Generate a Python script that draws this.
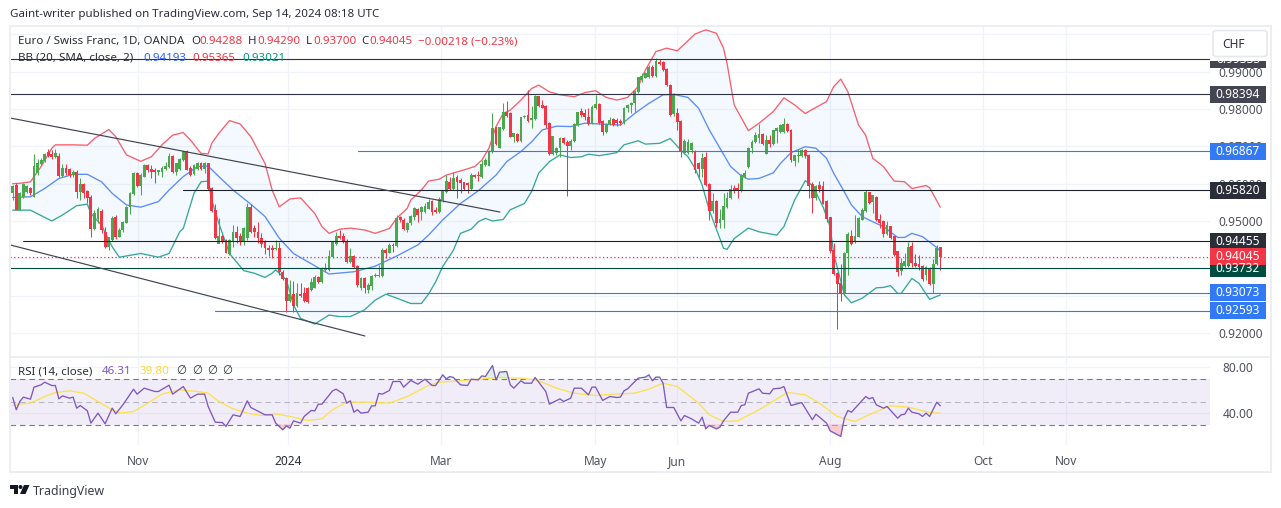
import matplotlib
matplotlib.use("Agg")
import numpy as np, pandas as pd, seaborn as sns
import matplotlib.pyplot as plt
from matplotlib.patches import Rectangle, Polygon, Circle, FancyBboxPatch
from matplotlib.transforms import IdentityTransform

W, H = 1281, 508
# ---------- candles, prices in 1e-4 CHF ----------
opens = [9576,9596,9531,9565,9579,9587,9565,9628,9654,9662,
 9683,9679,9672,9674,9620,9641,9638,9623,9632,9579,
 9598,9579,9563,9480,9507,9527,9471,9431,9451,9510,
 9458,9476,9495,9537,9574,9629,9594,9619,9650,9638,
 9635,9632,9632,9639,9646,9674,9632,9641,9663,9686,
 9641,9626,9641,9654,9641,9654,9587,9529,9440,9458,
 9449,9412,9445,9471,9458,9445,9454,9538,9480,9471,
 9454,9442,9427,9427,9425,9427,9364,9346,9287,9304,
 9272,9303,9306,9319,9315,9322,9349,9337,9369,9369,
 9404,9440,9460,9460,9446,9391,9406,9380,9320,9346,
 9315,9326,9353,9353,9353,9422,9415,9436,9434,9509,
 9503,9476,9494,9512,9531,9525,9525,9534,9552,9529,
 9525,9556,9579,9605,9587,9617,9608,9603,9601,9585,
 9623,9623,9619,9650,9647,9686,9750,9697,9746,9791,
 9788,9726,9732,9715,9778,9784,9771,9773,9833,9811,
 9808,9762,9681,9683,9695,9721,9712,9701,9715,9757,
 9793,9788,9779,9762,9802,9813,9766,9739,9760,9772,
 9771,9768,9763,9802,9811,9818,9846,9878,9885,9887,
 9913,9888,9924,9924,9907,9864,9786,9788,9766,9683,
 9683,9690,9686,9654,9639,9670,9599,9528,9552,9495,
 9503,9538,9562,9587,9587,9581,9619,9646,9697,9712,
 9724,9732,9681,9717,9706,9741,9739,9739,9760,9744,
 9662,9675,9675,9690,9677,9599,9561,9595,9594,9552,
 9509,9422,9360,9333,9306,9415,9460,9447,9458,9504,
 9528,9576,9552,9565,9504,9500,9465,9485,9458,9418,
 9367,9380,9380,9433,9387,9385,9380,9355,9373,9333,9385,9429]
closes = [9592,9531,9574,9599,9592,9576,9646,9654,9663,9679,
 9674,9672,9681,9620,9641,9630,9623,9632,9579,9598,
 9576,9563,9480,9520,9531,9476,9431,9456,9507,9458,
 9476,9498,9538,9574,9628,9594,9623,9650,9637,9632,
 9631,9635,9641,9647,9674,9632,9654,9665,9686,9638,
 9623,9650,9654,9641,9656,9587,9528,9454,9460,9445,
 9415,9449,9471,9456,9445,9480,9538,9471,9471,9454,
 9440,9427,9424,9424,9428,9364,9346,9287,9304,9272,
 9306,9300,9287,9284,9337,9349,9337,9373,9373,9406,
 9442,9458,9456,9445,9391,9406,9378,9329,9346,9320,
 9328,9351,9355,9355,9422,9415,9436,9433,9507,9503,
 9480,9494,9513,9534,9516,9538,9540,9551,9525,9525,
 9559,9579,9607,9587,9614,9605,9603,9585,9598,9623,
 9619,9620,9653,9663,9687,9748,9708,9750,9791,9782,
 9726,9735,9715,9778,9782,9769,9775,9833,9808,9804,
 9757,9679,9726,9695,9721,9710,9702,9715,9760,9791,
 9784,9778,9760,9806,9813,9763,9739,9760,9771,9757,
 9762,9762,9802,9811,9815,9848,9885,9887,9896,9913,
 9888,9927,9922,9906,9864,9784,9838,9766,9686,9715,
 9712,9708,9637,9639,9668,9596,9528,9552,9495,9504,
 9540,9562,9586,9583,9583,9623,9628,9695,9712,9730,
 9733,9706,9717,9706,9742,9748,9756,9760,9742,9663,
 9675,9677,9690,9674,9595,9561,9594,9586,9547,9507,
 9420,9358,9331,9304,9413,9465,9440,9460,9507,9530,
 9576,9549,9568,9503,9495,9467,9489,9456,9409,9364,
 9387,9391,9431,9389,9380,9378,9344,9375,9333,9385,9428,9404]
highs = [9596,9601,9579,9603,9596,9592,9679,9665,9670,9683,
 9692,9690,9692,9681,9654,9654,9641,9637,9637,9614,
 9603,9583,9570,9529,9538,9531,9485,9458,9513,9516,
 9480,9500,9540,9579,9632,9632,9629,9654,9654,9650,
 9641,9637,9646,9659,9681,9677,9656,9668,9688,9690,
 9646,9654,9659,9659,9659,9656,9592,9545,9507,9462,
 9453,9453,9489,9487,9467,9485,9547,9545,9489,9498,
 9467,9449,9436,9436,9449,9445,9369,9351,9342,9340,
 9333,9333,9324,9324,9346,9355,9353,9378,9387,9422,
 9445,9471,9476,9467,9451,9427,9409,9382,9351,9351,
 9333,9355,9360,9382,9427,9427,9440,9440,9516,9513,
 9507,9498,9516,9537,9534,9540,9547,9560,9556,9538,
 9565,9583,9623,9619,9632,9623,9614,9605,9605,9628,
 9626,9635,9663,9668,9690,9788,9753,9753,9815,9821,
 9793,9737,9735,9779,9784,9851,9808,9838,9835,9824,
 9811,9766,9726,9699,9724,9726,9717,9719,9763,9793,
 9802,9799,9802,9811,9838,9815,9771,9762,9779,9775,
 9775,9772,9806,9813,9820,9851,9887,9896,9900,9918,
 9918,9936,9933,9929,9909,9866,9842,9802,9771,9721,
 9719,9712,9690,9659,9681,9686,9603,9574,9556,9531,
 9574,9579,9596,9596,9601,9626,9637,9699,9717,9739,
 9760,9735,9730,9730,9744,9753,9760,9775,9762,9746,
 9677,9692,9692,9692,9679,9605,9596,9608,9608,9556,
 9512,9440,9364,9385,9418,9471,9476,9516,9512,9534,
 9583,9579,9570,9567,9519,9503,9501,9487,9460,9420,
 9400,9413,9445,9445,9411,9409,9382,9380,9378,9397,9436,9429]
lows = [9556,9529,9529,9561,9575,9570,9565,9623,9650,9658,
 9672,9665,9668,9619,9619,9623,9619,9619,9561,9556,
 9561,9547,9458,9476,9494,9467,9427,9422,9447,9453,
 9456,9471,9494,9520,9570,9592,9570,9617,9632,9614,
 9601,9623,9619,9637,9641,9628,9623,9637,9662,9637,
 9620,9623,9637,9637,9628,9583,9525,9451,9440,9440,
 9413,9409,9431,9440,9436,9436,9449,9467,9458,9440,
 9431,9412,9405,9400,9422,9355,9342,9257,9284,9257,
 9270,9297,9284,9281,9313,9320,9333,9335,9364,9367,
 9400,9437,9453,9440,9388,9388,9373,9324,9315,9308,
 9306,9315,9351,9351,9351,9400,9413,9418,9431,9498,
 9476,9471,9489,9503,9498,9503,9521,9531,9516,9521,
 9521,9552,9574,9583,9583,9561,9574,9583,9574,9583,
 9614,9608,9614,9646,9646,9683,9704,9695,9744,9779,
 9724,9712,9712,9712,9775,9766,9748,9771,9806,9802,
 9748,9677,9677,9677,9672,9706,9568,9690,9712,9754,
 9779,9771,9757,9760,9799,9760,9730,9737,9757,9754,
 9754,9757,9760,9793,9788,9793,9842,9873,9882,9882,
 9885,9885,9918,9903,9862,9781,9781,9744,9672,9679,
 9679,9681,9628,9619,9619,9594,9503,9521,9485,9480,
 9480,9534,9560,9574,9561,9579,9614,9641,9681,9710,
 9708,9704,9679,9699,9704,9708,9735,9737,9739,9659,
 9646,9659,9672,9670,9561,9522,9556,9579,9545,9498,
 9413,9355,9212,9287,9302,9355,9436,9440,9456,9503,
 9525,9545,9522,9501,9480,9458,9462,9453,9405,9353,
 9355,9378,9378,9378,9378,9369,9340,9342,9328,9308,9382,9370]

# ---------- Bollinger bands: (bar number, price in 1e-4 CHF) ----------
upper_bar = [0,2,5,8,11,12,17,21,23,27,29,32,36,39,42,45,48,50,53,55,56,58,61,64,67,71,73,75,78,81,85,87,89,92,95,99,102,106,108,111,112,115,117,
 120,122,127,130,132,134,136,138,140,143,146,148,151,154,158,161,164,167,170,173,176,178,181,184,187,190,192,195,198,200,201,203,207,210,214,217,220,223,225,229,231,233,235,238,240,242,245,248,251,253,257,258,261]
upper_val = [9600,9601,9605,9646,9695,9704,9704,9703,9721,9745,9726,9677,9660,9672,9704,9730,9737,9717,9681,9680,9708,9735,9769,9760,9726,9654,9583,9538,9559,9562,9520,9485,9467,9478,9481,9476,9467,9480,9507,9534,9556,9583,9607,
 9612,9623,9637,9646,9663,9695,9753,9788,9797,9824,9855,9864,9846,9838,9833,9844,9849,9831,9824,9831,9860,9904,9954,9963,9956,9983,10001,10012,10003,9963,9922,9811,9742,9762,9793,9830,9811,9788,9799,9820,9860,9880,9846,9757,9730,9668,9646,9607,9605,9587,9595,9589,9537]
mid_bar = [0,5,9,13,17,21,25,28,32,36,41,44,48,52,55,58,62,67,71,75,79,83,89,96,102,108,114,117,121,126,131,136,139,143,146,149,153,157,161,165,171,175,179,183,186,190,193,196,199,202,205,207,210,214,216,219,223,226,229,231,234,236,239,242,245,249,251,253,256,260,261]
mid_val = [9563,9565,9587,9614,9625,9625,9605,9574,9543,9537,9552,9583,9619,9646,9647,9619,9583,9545,9512,9454,9413,9391,9358,9364,9379,9406,9436,9462,9503,9547,9581,9623,9659,9686,9712,9744,9754,9753,9762,9760,9757,9788,9815,9838,9839,9831,9802,9744,9695,9646,9621,9612,9614,9629,9654,9683,9699,9695,9668,9628,9578,9543,9512,9498,9485,9456,9456,9467,9458,9429,9419]
lower_bar = [0,5,11,14,18,21,22,25,27,28,30,36,41,44,47,48,51,53,55,56,58,61,65,68,71,73,74,77,79,81,85,89,92,95,99,102,105,109,112,115,117,119,121,124,126,129,131,133,135,138,140,144,146,148,151,154,157,160,162,165,170,172,176,178,182,185,188,190,192,194,196,200,201,203,207,210,215,217,220,223,225,228,230,231,234,236,239,243,245,247,249,250,253,255,258,261]
lower_val = [9529,9529,9500,9516,9541,9545,9520,9489,9449,9431,9403,9413,9403,9413,9471,9480,9574,9605,9607,9556,9494,9413,9367,9360,9349,9360,9369,9342,9275,9239,9224,9248,9244,9244,9262,9288,9304,9290,9279,9279,9304,9337,9378,9422,9467,9478,9498,9507,9500,9504,9530,9547,9579,9628,9659,9677,9670,9672,9679,9675,9683,9704,9715,9706,9708,9721,9690,9672,9641,9596,9529,9427,9424,9453,9481,9471,9462,9485,9556,9608,9596,9538,9485,9413,9302,9281,9293,9321,9322,9327,9306,9306,9346,9333,9290,9302]

# ---------- RSI ----------
rsi_bar = [0,1,2,3,5,6,8,9,11,12,13,14,16,17,18,19,21,22,24,26,28,29,31,34,35,37,40,41,44,45,48,50,52,54,55,57,59,60,62,64,66,67,71,73,74,76,77,78,79,81,82,84,85,86,87,90,91,93,94,95,96,97,98,100,101,102,103,104,106,107,109,110,112,114,116,118,119,121,122,123,124,126,128,129,131,132,133,135,136,137,
 139,140,141,143,144,146,147,148,150,151,154,155,157,158,160,162,163,164,166,168,170,171,172,173,176,178,179,180,181,182,183,184,186,188,189,191,193,194,195,196,198,199,200,202,204,205,206,207,210,211,213,214,216,217,219,222,225,226,229,230,233,234,235,236,240,241,242,243,245,246,249,250,251,252,253,255,256,257,258,260,261]
rsi_val = [53.5,42.8,50,53.8,52,62.5,64.5,66.8,63.9,63.9,52.3,54.9,52.9,53.8,44.2,46.5,41.9,31.2,39.9,30.6,44.2,39.3,47.1,60.7,56.4,61.6,58.7,58.7,64.2,56.4,63,52.9,56.4,56.4,45.7,32,31.7,28.3,38.4,37,50.6,44.8,38.4,38.4,31.2,25.4,28.8,26.8,33.2,31.2,37,42.2,41.9,47.7,47.7,59.3,60.7,56.7,48.6,50.6,40.7,42.8,39.9,40.7,46.2,46.2,57,56.4,59.6,67.4,67.4,62.5,68.3,65.1,69.4,63.9,63.9,73.2,69.7,71.7,70.9,64.5,63.9,69.4,68.8,72.3,71.7,81.3,68.8,75.5,
 76.1,64.5,61.6,68,65.9,65.9,70.9,66.8,58.7,47.7,52.3,50,52.9,61.6,61.6,55.8,62.5,62.5,50.9,54.3,53.5,53.8,59.3,61,70.3,71.2,73.2,68,71.2,71.2,65.9,44.8,44.8,33.2,37.8,34.9,31.2,36.4,26.2,29.1,26.2,27.7,33.2,40.7,40.7,46.5,47.1,57.2,61,57.2,56.7,61,61.6,63,46.5,49.1,34.1,39,31.2,24.5,19.6,35.5,42.2,40.7,54.3,52.3,53.5,47.1,44.2,45.7,35.5,38.4,39,44.2,40.7,39.3,37,39.9,37,49.4,46.3]
rsi_ma_bar = [0,2,5,9,12,16,20,24,28,30,34,38,42,47,52,55,58,62,66,70,74,78,83,87,90,94,100,106,111,117,120,126,132,137,143,147,149,153,158,164,169,175,179,183,187,193,196,200,204,210,218,223,227,232,237,242,247,252,258,261]
rsi_ma_val = [46.5,47.7,48.6,54.3,57.8,59.3,57.2,50,42.8,39.9,41.3,48.6,56.4,60.1,58.7,57.2,50,43.6,39.9,37.8,39.3,37,33.5,34.9,42.8,49.4,49.4,48.6,54.3,63.9,66.8,68,69.7,70.9,70.3,68.8,66.8,61.6,57.2,55.2,56.4,57.2,60.7,65.9,63,48.6,38.4,32.6,33.2,42.8,57.8,55.8,48.6,37,32.6,39.9,46.2,45.1,40.4,39.8]

# ---------- axes text & levels ----------
month_labels = ["Nov", "2024", "Mar", "May", "Jun", "Aug", "Oct", "Nov"]
month_bars = [35.3, 77.5, 120.5, 163.9, 186.9, 230, 273, 296.4]
price_ticks = [0.92, 0.95, 0.96, 0.97, 0.98, 0.99]
rsi_ticks = [40, 80]
# (price, first bar of the line, line colour, tag colour)
levels = [(0.99333, -0.76, "#2f3241", "#434651"), (0.98394, -0.76, "#2f3241", "#434651"),
          (0.96867, 97.2, "#3179f5", "#3179f5"), (0.95820, 47.9, "#1e222d", "#2a2e39"),
          (0.94455, 2.9, "#1e222d", "#2a2e39"), (0.93732, -0.76, "#00493d", "#004d40"),
          (0.93073, 105.3, "#3179f5", "#3179f5"), (0.92593, 56.9, "#3179f5", "#3179f5")]
last_price = 0.94045
trend_a = ([-0.76, 137.1], [0.9776, 0.9524])
trend_b = ([-0.76, 99.1], [0.9436, 0.9192])

FONT = "Noto Sans"
RED, GREEN = "#f23645", "#4aa84f"
GRID = "#f0f3fa"
sns.set_theme(style="white", rc={"axes.grid": False})
plt.rcParams["font.family"] = [FONT, "DejaVu Sans"]

fig = plt.figure(figsize=(W / 100, H / 100), dpi=100, facecolor="white")
def rect(x0, y0, x1, y1):
    return [x0 / W, 1 - y1 / H, (x1 - x0) / W, (y1 - y0) / H]
ax = fig.add_axes(rect(10, 26, 1210, 356))
rx = fig.add_axes(rect(10, 358, 1210, 445), sharex=ax)

BAR0, STEP = 12.7, 3.554
xlim = ((10 - BAR0) / STEP, (1210 - BAR0) / STEP)

# ---------- price pane ----------
o, c, h, l = [np.array(a) / 1e4 for a in (opens, closes, highs, lows)]
bars = np.arange(len(o))
up = c >= o
ub, uv = np.array(upper_bar), np.array(upper_val) / 1e4
mb, mv = np.array(mid_bar), np.array(mid_val) / 1e4
lb, lv = np.array(lower_bar), np.array(lower_val) / 1e4

for p in [0.92, 0.93, 0.94, 0.95, 0.96, 0.97, 0.98, 0.99, 1.00]:
    ax.axhline(p, color=GRID, lw=0.9, zorder=0)
for m in month_bars:
    ax.axvline(m, color=GRID, lw=0.9, zorder=0)
    rx.axvline(m, color=GRID, lw=0.9, zorder=0)

ax.fill(np.r_[ub, lb[::-1]], np.r_[uv, lv[::-1]], color="#2196f3", alpha=0.05, lw=0, zorder=1)
for bx, bv, col in [(ub, uv, "#f7606c"), (mb, mv, "#5b8cf8"), (lb, lv, "#36a89b")]:
    sns.lineplot(x=bx, y=bv, ax=ax, color=col, lw=0.95, estimator=None, sort=False, zorder=2, legend=False)

ax.vlines(bars, l, h, colors=np.where(up, GREEN, RED), lw=0.75, zorder=3)
ax.bar(bars, np.abs(c - o) + 0.00012, bottom=np.minimum(o, c) - 0.00006, width=0.8,
       color=np.where(up, GREEN, RED), lw=0, zorder=3)

for price, start, col, _ in levels:
    sns.lineplot(x=[start, xlim[1]], y=[price, price], ax=ax, color=col, lw=0.8, zorder=4, legend=False)
ax.axhline(last_price, color=RED, lw=0.9, ls=(0, (1, 2)), zorder=4)
for tx, ty in (trend_a, trend_b):
    sns.lineplot(x=tx, y=ty, ax=ax, color="#3f4250", lw=0.85, zorder=4, legend=False)

ax.set_xlim(*xlim)
ax.set_ylim(0.95 - 135 / 3733, 0.95 + 195 / 3733)
ax.yaxis.tick_right()
ax.set_yticks(price_ticks, [f"{p:.5f}" for p in price_ticks])
ax.tick_params(axis="y", length=0, pad=6, labelsize=8.6, labelcolor="#50535e")
ax.tick_params(axis="x", length=0, labelbottom=False)
ax.set_xlabel(""); ax.set_ylabel("")

# ---------- RSI pane ----------
rb, rv = np.array(rsi_bar), np.array(rsi_val)
mab, mav = np.array(rsi_ma_bar), np.array(rsi_ma_val)
for v in [40, 80]:
    rx.axhline(v, color=GRID, lw=0.9, zorder=0)
rx.axhspan(30, 70, color="#7e57c2", alpha=0.1, lw=0, zorder=1)
rx.axhline(70, color="#787b86", lw=0.8, ls=(0, (5, 3.5)), zorder=2)
rx.axhline(30, color="#787b86", lw=0.8, ls=(0, (5, 3.5)), zorder=2)
rx.axhline(50, color="#b5b7bf", lw=0.8, ls=(0, (5, 3.5)), zorder=2)
rx.fill_between(rb, rv, 30, where=rv < 30, interpolate=True, color="#f7a8ad", alpha=0.6, lw=0, zorder=2)
rx.fill_between(rb, rv, 70, where=rv > 70, interpolate=True, color="#a8e0b0", alpha=0.4, lw=0, zorder=2)
sns.lineplot(x=mab, y=mav, ax=rx, color="#fde050", lw=0.95, estimator=None, zorder=3, legend=False)
sns.lineplot(x=rb, y=rv, ax=rx, color="#7e57c2", lw=0.95, estimator=None, zorder=4, legend=False)
rx.set_ylim(50 - 43.5 / 1.15, 50 + 43.5 / 1.15)
rx.yaxis.tick_right()
rx.set_yticks(rsi_ticks, [f"{v:.2f}" for v in rsi_ticks])
rx.tick_params(axis="y", length=0, pad=9, labelsize=8.6, labelcolor="#50535e")
rx.set_xticks(month_bars, month_labels)
rx.tick_params(axis="x", length=0, pad=7, labelsize=8.6, labelcolor="#50535e")
rx.get_xticklabels()[1].set_fontweight("bold")
rx.get_xticklabels()[1].set_color("#2a2e39")
rx.set_xlabel(""); rx.set_ylabel("")
for a in (ax, rx):
    for s in a.spines.values():
        s.set_visible(False)
    a.patch.set_alpha(0)

# ---------- pixel-placed furniture ----------
T = IdentityTransform()
def P(x, y):
    return (x, H - y)
def box(x0, y0, x1, y1, col, z=1):
    fig.add_artist(Rectangle(P(x0, y1), x1 - x0, y1 - y0, transform=T, fc=col, ec="none", zorder=z))
def text(x, y, s, col="#50535e", size=8.3, ha="left", weight="normal", z=8):
    fig.text(x / W, 1 - y / H, s, color=col, fontsize=size, ha=ha, va="center", fontweight=weight, zorder=z)

FRAME = "#eceef4"
box(9, 25, 1272, 27, FRAME, z=7); box(9, 471, 1272, 473, FRAME, z=7)
box(9, 25, 11, 473, FRAME, z=7); box(1270, 25, 1272, 473, FRAME, z=7)
box(9, 355.5, 1272, 357.5, FRAME, z=7)

for price, _, _, col in levels + [(last_price, 0, 0, RED)]:
    yc = 221 - (price - 0.95) * 3733
    box(1210, yc - 8.5, 1266, yc + 8.5, col, z=5)
    text(1238, yc, f"{price:.5f}", "white", 8.6, "center", "semibold", z=5.5)

box(1210, 27, 1270, 60.5, "white", z=5.8)
fig.add_artist(FancyBboxPatch((1213, H - 56.5), 54, 26, boxstyle="round,pad=0,rounding_size=3", transform=T,
                              fc="white", ec="#e6e8ef", lw=1.2, zorder=6))
text(1222, 44, "CHF", "#2a2e39", 8.6, "left", z=6.5)

text(10, 15, "Gaint-writer published on TradingView.com, Sep 14, 2024 08:18 UTC", "#2a2e39", 8.3)
BLK = "#2a2e39"
text(18, 41.5, "Euro / Swiss Franc, 1D, OANDA", BLK)
for x, s, col in [(191, "O", BLK), (199, "0.94288", RED), (248, "H", BLK), (257, "0.94290", RED),
                  (306, "L", BLK), (313, "0.93700", RED), (361, "C", BLK), (369, "0.94045", RED),
                  (418, "−0.00218 (−0.23%)", RED)]:
    text(x, 41.5, s, col)
text(18, 58.5, "BB (20, SMA, close, 2)", BLK)
for x, s, col in [(143, "0.94193", "#2962ff"), (192, "0.95365", RED), (242, "0.93021", "#089981")]:
    text(x, 58.5, s, col)
text(18, 371.5, "RSI (14, close)", BLK)
for x, s, col in [(102, "46.31", "#7e57c2"), (139, "39.80", "#fdd835"), (176, "∅", BLK), (192, "∅", BLK),
                  (207, "∅", BLK), (222, "∅", BLK)]:
    text(x, 371.5, s, col)

LOGO = "#131722"
fig.add_artist(Polygon([P(10, 485), P(18, 485), P(18, 494), P(14, 494), P(14, 489), P(10, 489)], transform=T, fc=LOGO, ec="none"))
fig.add_artist(Circle(P(20.5, 487), 2, transform=T, fc=LOGO, ec="none"))
fig.add_artist(Polygon([P(24, 485), P(29.5, 485), P(25.5, 494), P(20, 494)], transform=T, fc=LOGO, ec="none"))
text(33, 491, "TradingView", "#3a3e4a", 8.9)

fig.savefig("out.png", dpi=100)
